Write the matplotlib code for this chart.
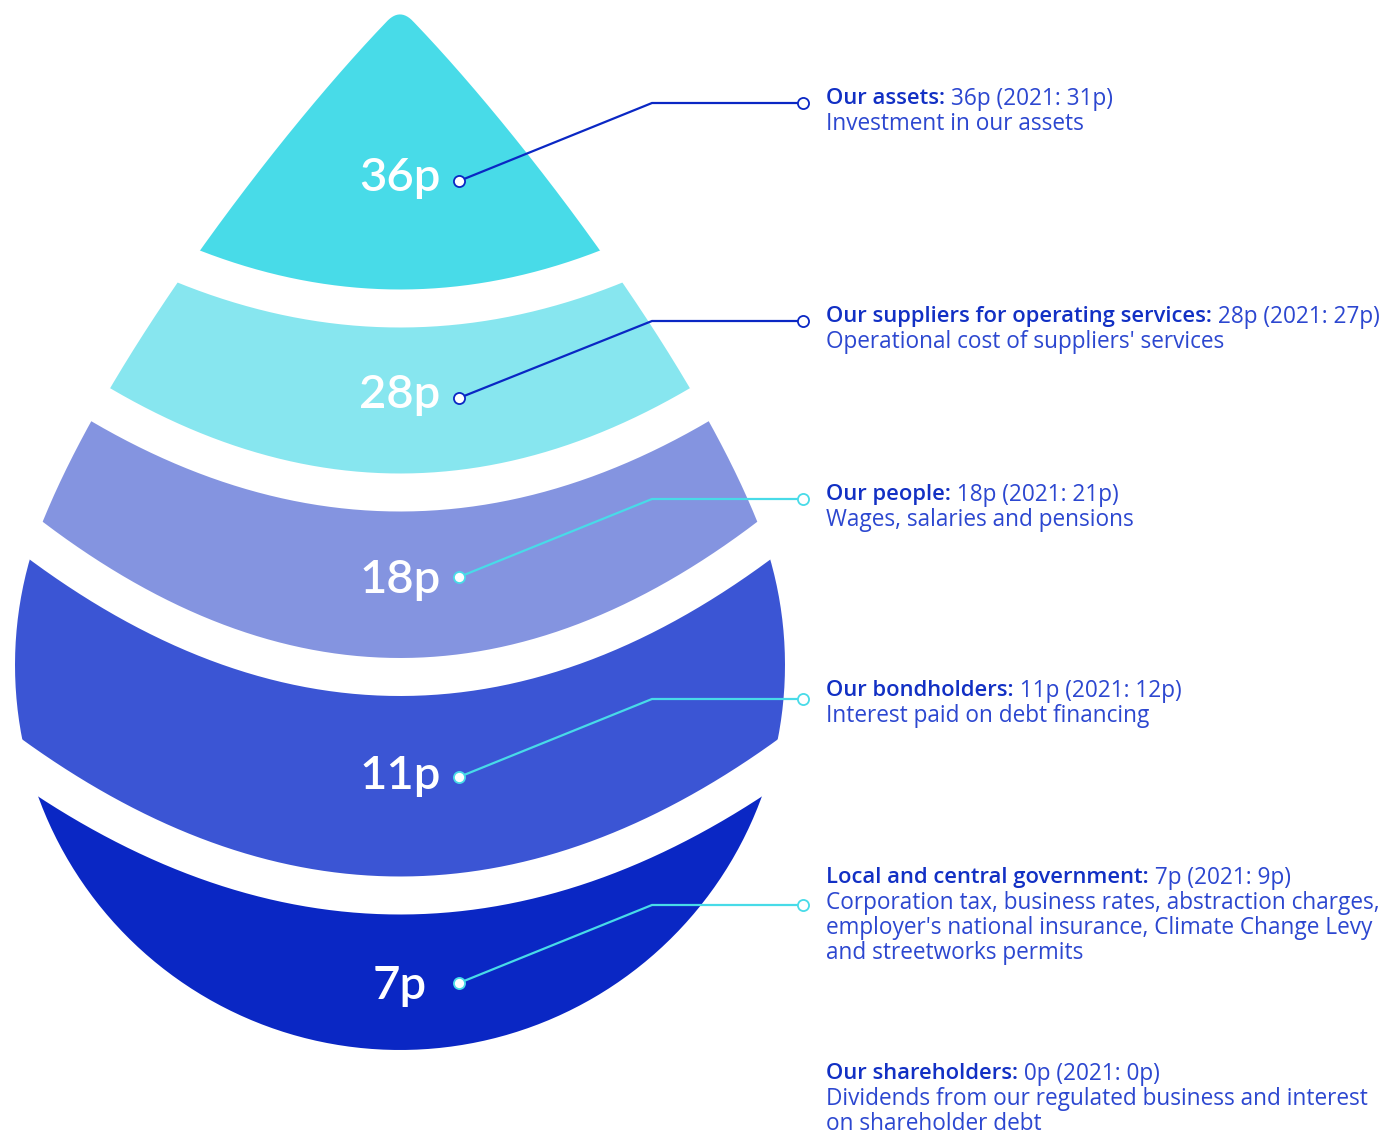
import numpy as np
import matplotlib
matplotlib.use("Agg")
import matplotlib.pyplot as plt
from matplotlib.path import Path
from matplotlib.patches import PathPatch

# ---------------- data ----------------
values = [36, 28, 18, 11, 7]
value_labels = ["36p", "28p", "18p", "11p", "7p"]
titles = ["Our assets:", "Our suppliers for operating services:", "Our people:",
          "Our bondholders:", "Local and central government:", "Our shareholders:"]
amounts = [" 36p (2021: 31p)", " 28p (2021: 27p)", " 18p (2021: 21p)",
           " 11p (2021: 12p)", " 7p (2021: 9p)", " 0p (2021: 0p)"]
descriptions = [
    ["Investment in our assets"],
    ["Operational cost of suppliers' services"],
    ["Wages, salaries and pensions"],
    ["Interest paid on debt financing"],
    ["Corporation tax, business rates, abstraction charges,",
     "employer's national insurance, Climate Change Levy",
     "and streetworks permits"],
    ["Dividends from our regulated business and interest",
     "on shareholder debt"],
]

# ---------------- style / layout ----------------
band_colors = ["#48DBE8", "#87E6EF", "#8494E0", "#3B55D4", "#0A27C4"]
line_colors = ["#0A27C4", "#0A27C4", "#48DBE8", "#48DBE8", "#48DBE8"]
title_color = "#1230C4"
text_color = "#2C47D0"
font = "Open Sans"
num_font = "Lato"

W, H = 1395, 1137
fig = plt.figure(figsize=(W / 100, H / 100), dpi=100)
ax = fig.add_axes([0, 0, 1, 1])
ax.set_xlim(0, W)
ax.set_ylim(H, 0)
ax.axis("off")

# drop outline: cubic sides + circular bottom
cx, cy, r = 400, 665, 385
P0 = np.array([400.0, 8.0])
P1 = np.array([298.0, 110.0])
P2 = np.array([114.0, 345.0])
P3 = np.array([43.0, 521.0])

def cubic(t, a, b, c, d):
    t = t[:, None]
    return (1 - t) ** 3 * a + 3 * t * (1 - t) ** 2 * b + 3 * t ** 2 * (1 - t) * c + t ** 3 * d

def quad(t, a, b, c):
    t = t[:, None]
    return (1 - t) ** 2 * a + 2 * t * (1 - t) * b + t ** 2 * c

t0 = 0.04
left = cubic(np.linspace(t0, 1, 200), P0, P1, P2, P3)
phiL = np.arctan2(P3[1] - cy, P3[0] - cx)
if phiL < 0:
    phiL += 2 * np.pi
phiR = np.pi - phiL
phis = np.linspace(phiL, phiR, 400)
circ = np.column_stack([cx + r * np.cos(phis), cy + r * np.sin(phis)])
right = left[::-1].copy()
right[:, 0] = 2 * cx - right[:, 0]
tip = quad(np.linspace(0, 1, 40), right[-1], P0, left[0])
outline = np.vstack([left, circ, right, tip])
drop = PathPatch(Path(outline), facecolor="none", edgecolor="none")
ax.add_patch(drop)

# gap centre lines (parabolas)
gap_yc = [308.5, 492.5, 677, 895.5]
gap_a = [0.00094, 0.00098, 0.00103, 0.00093]
xs = np.linspace(-60, 860, 400)
gaps = [yc - a * (xs - cx) ** 2 for yc, a in zip(gap_yc, gap_a)]
bounds = [np.full_like(xs, -100.0)] + gaps + [np.full_like(xs, 1300.0)]
for i, col in enumerate(band_colors):
    poly = ax.fill_between(xs, bounds[i], bounds[i + 1], color=col, lw=0, zorder=1)
    poly.set_clip_path(drop)
for g in gaps:
    ax.plot(xs, g, color="white", lw=38 * 0.72, solid_capstyle="butt", zorder=2)

# value labels inside the drop
label_y = [178, 395, 580, 776, 986]
for lab, y in zip(value_labels, label_y):
    ax.text(400, y, lab, color="white", fontsize=34, family=num_font, fontweight="semibold",
            ha="center", va="center", zorder=5)

# leader lines
dot_x, elbow_x, end_x = 459, 652, 803
dot_y = [181, 398, 577, 777, 983]
end_y = [103, 321, 499, 699, 905]
for dy, ey, lc in zip(dot_y, end_y, line_colors):
    ax.plot([dot_x, elbow_x, end_x], [dy, ey, ey], color=lc, lw=1.6, zorder=6,
            solid_joinstyle="miter")
    ax.plot([dot_x], [dy], marker="o", ms=8, mfc="white", mec=lc, mew=1.3, zorder=7)
    ax.plot([end_x], [ey], marker="o", ms=8, mfc="white", mec=lc, mew=1.3, zorder=7)

# right-hand text blocks
text_x = 826
block_y = [96, 314, 492, 688, 875, 1071]
line_h = 25
fig.canvas.draw()
renderer = fig.canvas.get_renderer()
# fit font size so that the widest reference line spans ~560 px
probe = ax.text(0, 0, descriptions[4][0], fontsize=15, family=font)
pw = probe.get_window_extent(renderer=renderer).width
probe.remove()
fs = 15 * 556 / pw
# title font size: "Our suppliers for operating services:" spans ~386 px
probe = ax.text(0, 0, titles[1], fontsize=fs, family=font, fontweight="semibold")
tw = probe.get_window_extent(renderer=renderer).width
probe.remove()
fs_t = min(fs, fs * 386 / tw)

for title, amt, desc, y in zip(titles, amounts, descriptions, block_y):
    t = ax.text(text_x, y, title, color=title_color, fontsize=fs_t, family=font,
                fontweight="semibold", ha="left", va="center_baseline", zorder=8)
    bb = t.get_window_extent(renderer=renderer)
    ax.text(text_x + bb.width, y, amt, color=text_color, fontsize=fs, family=font,
            ha="left", va="center_baseline", zorder=8)
    for k, line in enumerate(desc):
        ax.text(text_x, y + line_h * (k + 1), line, color=text_color, fontsize=fs,
                family=font, ha="left", va="center_baseline", zorder=8)

fig.savefig("out.png", dpi=100, facecolor="white")
